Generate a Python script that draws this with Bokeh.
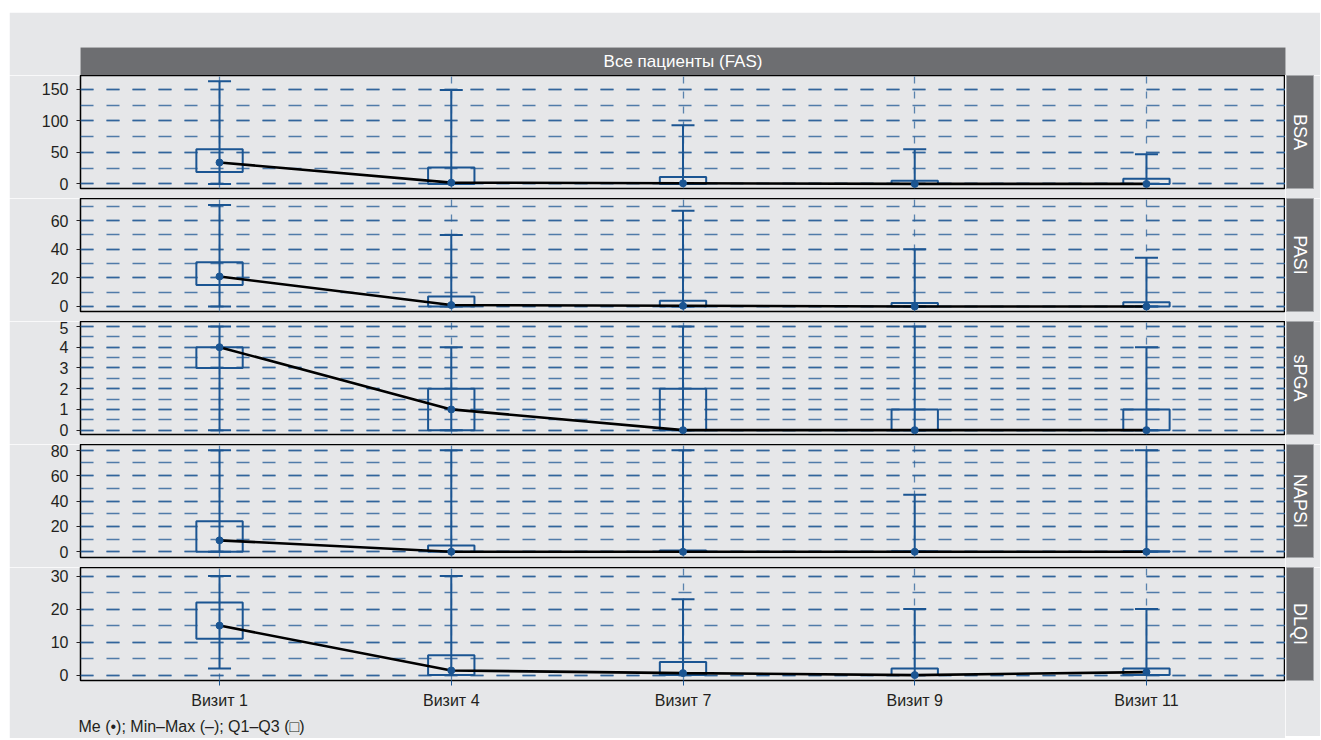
import math
from bokeh.plotting import figure
from bokeh.models import (Range1d, FactorRange, SingleIntervalTicker,
                          Label, Title, Whisker, TeeHead, ColumnDataSource)
from bokeh.layouts import column, row
from bokeh.embed import file_html
from bokeh.resources import INLINE

# ---------------- data ----------------
visits = ["Визит 1", "Визит 4", "Визит 7", "Визит 9", "Визит 11"]

bsa_min = [0, 0, 0, 0, 0]
bsa_q1 = [19, 0, 0, 0, 0]
bsa_med = [34, 2, 1, 0, 0]
bsa_q3 = [55, 26, 11, 5, 8]
bsa_max = [163, 149, 93, 55, 47]

pasi_min = [0, 0, 0, 0, 0]
pasi_q1 = [15, 0, 0, 0, 0]
pasi_med = [21, 1, 0.5, 0, 0]
pasi_q3 = [31, 7, 4, 2.5, 3]
pasi_max = [71, 50, 67, 40, 34]

spga_min = [0, 0, 0, 0, 0]
spga_q1 = [3, 0, 0, 0, 0]
spga_med = [4, 1, 0, 0, 0]
spga_q3 = [4, 2, 2, 1, 1]
spga_max = [5, 4, 5, 5, 4]

napsi_min = [0, 0, 0, 0, 0]
napsi_q1 = [0, 0, 0, 0, 0]
napsi_med = [9, 0, 0, 0, 0]
napsi_q3 = [24, 5, 1, 0.5, 0.5]
napsi_max = [80, 80, 80, 45, 80]

dlqi_min = [2, 0, 0, 0, 0]
dlqi_q1 = [11, 0, 0, 0, 0]
dlqi_med = [15, 1.4, 0.6, 0, 0.9]
dlqi_q3 = [22, 6, 4, 2, 2]
dlqi_max = [30, 30, 23, 20, 20]

panel_names = ["BSA", "PASI", "sPGA", "NAPSI", "DLQI"]
header_text = "Все пациенты (FAS)"
legend_text = "Me (•); Min–Max (–); Q1–Q3 (□)"

# ---------------- style ----------------
BG = "#e6e7e9"
STRIP = "#6d6e71"
BLUE = "#1b5592"
GRID = "#2a6099"
VGRID = "#5a83ad"
TXT = "#231f20"
FONT = "Liberation Sans"
NARROW = "Liberation Sans Narrow, Liberation Sans"

TOP_M = 12      # white margin above the grey area
LEFT_M = 9      # white margin left of the grey area
LEFT = 71       # grey border left of the panel frames
FW = 1205
FH = 113
SW = 27
RIGHT = 7
GAP = 10
BOTTOM = 56

panel_specs = [
    (bsa_min, bsa_q1, bsa_med, bsa_q3, bsa_max, (-7.3, 172.1), 50),
    (pasi_min, pasi_q1, pasi_med, pasi_q3, pasi_max, (-3.5, 75.5), 20),
    (spga_min, spga_q1, spga_med, spga_q3, spga_max, (-0.21, 5.24), 1),
    (napsi_min, napsi_q1, napsi_med, napsi_q3, napsi_max, (-4.5, 84.5), 20),
    (dlqi_min, dlqi_q1, dlqi_med, dlqi_q3, dlqi_max, (-1.64, 32.6), 10),
]

# ---------------- header ----------------
header = figure(x_range=Range1d(0, 1), y_range=Range1d(0, 1),
                x_axis_type=None, y_axis_type=None,
                frame_width=FW, frame_height=28,
                min_border_left=LEFT, min_border_right=SW + 1 + RIGHT,
                min_border_top=35, min_border_bottom=0,
                toolbar_location=None, output_backend="svg",
                background_fill_color=STRIP, border_fill_color=BG,
                outline_line_color=None)
header.add_layout(Label(x=0.5, y=0.5, text=header_text, text_align="center",
                        text_baseline="middle", text_color="white",
                        text_font_size="17px", text_font=FONT))

rows = [header]
n = len(panel_specs)
for i, (mn, q1, med, q3, mx, yr, step) in enumerate(panel_specs):
    last = i == n - 1
    bottom = BOTTOM if last else GAP
    src = ColumnDataSource(dict(x=visits, lo=mn, hi=mx, q1=q1, q3=q3, med=med))
    p = figure(x_range=FactorRange(factors=visits, range_padding=0.1,
                                   range_padding_units="absolute"),
               y_range=Range1d(*yr),
               frame_width=FW, frame_height=FH,
               min_border_left=LEFT, min_border_right=0,
               min_border_top=0, min_border_bottom=bottom,
               x_axis_location="below" if last else None,
               toolbar_location=None, output_backend="svg",
               background_fill_color=BG, border_fill_color=BG,
               outline_line_color="black", outline_line_width=1.5)
    tk = SingleIntervalTicker(interval=step, num_minor_ticks=2)
    p.yaxis.ticker = tk
    p.ygrid.ticker = tk
    p.ygrid.grid_line_color = GRID
    p.ygrid.grid_line_dash = "13 13"
    p.ygrid.grid_line_width = 1.4
    p.ygrid.grid_line_alpha = 0.8
    p.ygrid.minor_grid_line_color = GRID
    p.ygrid.minor_grid_line_dash = "13 13"
    p.ygrid.minor_grid_line_width = 1.4
    p.ygrid.minor_grid_line_alpha = 0.8
    p.xgrid.grid_line_color = VGRID
    p.xgrid.grid_line_dash = "7 8"
    p.xgrid.grid_line_width = 1.3

    ya = p.yaxis[0]
    ya.axis_line_color = None
    ya.major_tick_in = 0
    ya.major_tick_out = 4
    ya.major_tick_line_color = TXT
    ya.minor_tick_line_color = None
    ya.major_label_standoff = 8
    ya.major_label_text_font = FONT
    ya.major_label_text_font_size = "16px"
    ya.major_label_text_color = TXT

    if last:
        xa = p.xaxis[0]
        xa.axis_line_color = None
        xa.major_tick_in = 0
        xa.major_tick_out = 5
        xa.major_tick_line_color = BLUE
        xa.major_label_standoff = 6
        xa.major_label_text_font = FONT
        xa.major_label_text_font_size = "16px"
        xa.major_label_text_color = TXT
        p.add_layout(Title(text=legend_text, align="left", offset=-2, standoff=8,
                           text_font=FONT, text_font_size="16px",
                           text_font_style="normal", text_color=TXT), "below")

    w = Whisker(base="x", lower="lo", upper="hi", source=src, dimension="height",
                line_color=BLUE, line_width=2, level="underlay",
                upper_head=TeeHead(size=23, line_color=BLUE, line_width=2),
                lower_head=TeeHead(size=23, line_color=BLUE, line_width=2))
    p.add_layout(w)
    p.vbar(x="x", top="q3", bottom="q1", width=0.2, source=src,
           fill_color=None, line_color=BLUE, line_width=2)
    p.line(x="x", y="med", source=src, line_color="black", line_width=2.6)
    p.scatter(x="x", y="med", source=src, size=7, fill_color=BLUE, line_color=BLUE)

    s = figure(x_range=Range1d(0, 1), y_range=Range1d(0, 1),
               x_axis_type=None, y_axis_type=None,
               frame_width=SW, frame_height=FH,
               min_border_left=1, min_border_right=RIGHT,
               min_border_top=0, min_border_bottom=bottom,
               toolbar_location=None, output_backend="svg",
               background_fill_color=STRIP, border_fill_color=BG,
               outline_line_color="#a7a9ac", outline_line_width=1)
    s.add_layout(Label(x=0.5, y=0.5, text=panel_names[i], angle=-math.pi / 2,
                       text_align="center", text_baseline="middle",
                       text_color="white", text_font_size="18px", text_font=NARROW))
    rows.append(row(p, s, spacing=0))

layout = column(*rows, spacing=0, margin=(TOP_M, 0, 0, LEFT_M))
open("out.html", "w").write(file_html(layout, INLINE))
